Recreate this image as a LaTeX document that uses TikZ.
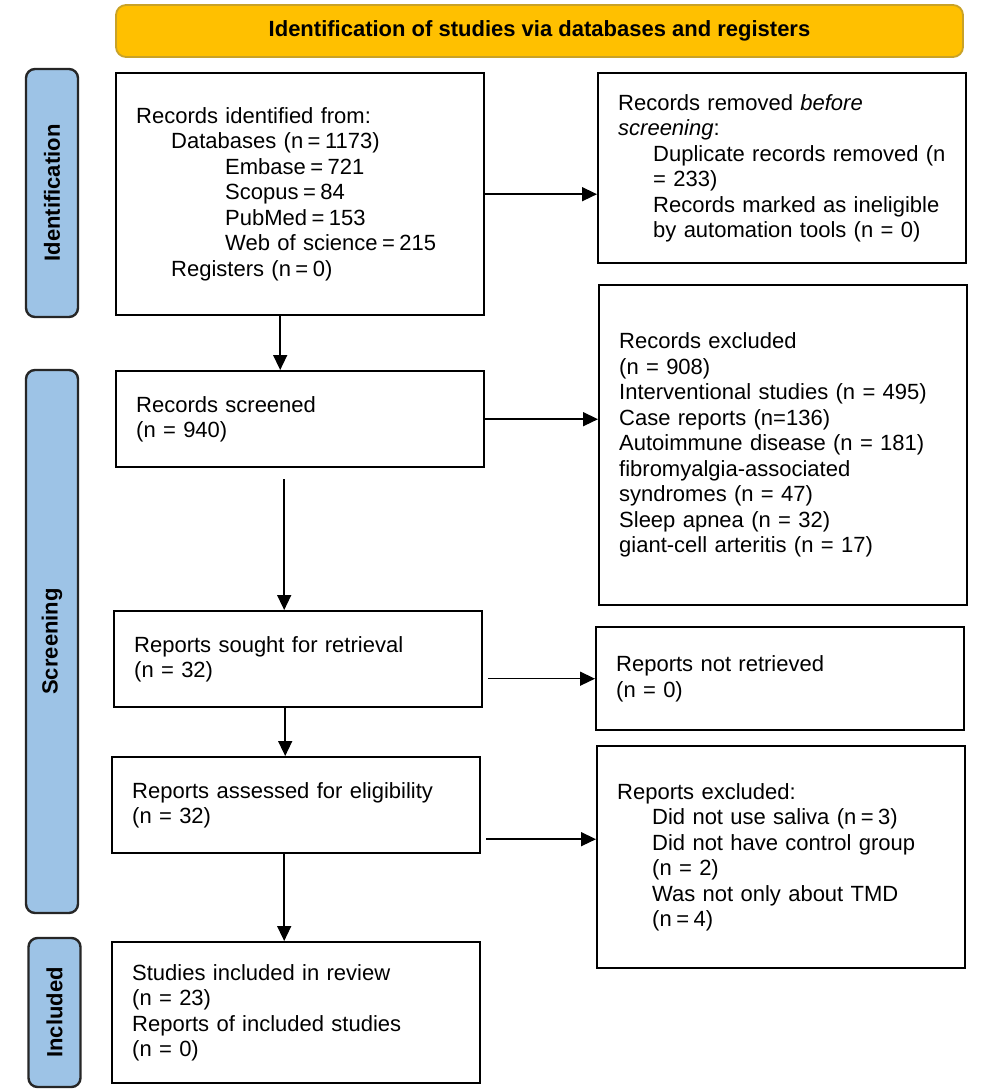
\documentclass[tikz,border=0pt]{standalone}
\usepackage{fontspec}
\setmainfont{Liberation Sans}
\usetikzlibrary{arrows.meta,calc}
\definecolor{gold}{HTML}{FFC000}
\definecolor{goldborder}{HTML}{C9A227}
\definecolor{phaseblue}{HTML}{9DC3E6}
\newcommand{\teq}{\hspace{4.5pt}=\hspace{4.5pt}}
\begin{document}
\begin{tikzpicture}[x=1pt,y=-1pt,
  box/.style={draw=black, line width=2.4pt, fill=white, anchor=north west, inner xsep=20pt, inner ysep=0pt, text width=328pt, align=left, font=\fontsize{22}{25.5}\selectfont},
  phase/.style={draw=black!85, fill=phaseblue, line width=2.4pt, rounded corners=9pt, rotate=90, minimum height=52pt, inner sep=0pt, font=\bfseries\fontsize{22}{26}\selectfont},
  arr/.style={-{Triangle[length=15pt,width=14pt]}, line width=1.5pt}]
\useasboundingbox (0,0) rectangle (1000,1092);
\fill[white] (0,0) rectangle (1000,1092);
\node[draw=goldborder, fill=gold, rounded corners=10pt, line width=1.8pt, minimum width=847pt, minimum height=52pt, inner sep=0pt, font=\bfseries\fontsize{22}{26}\selectfont] (title) at (539.5,31) {Identification of studies via databases and registers};
\node[phase, minimum width=248pt] (pid) at (52,193) {Identification};
\node[phase, minimum width=543pt] (psc) at (52,641.5) {Screening};
\node[phase, minimum width=149pt] (pin) at (54.5,1012.5) {Included};
\node[box, minimum height=242pt] (A) at (115,72) {Records identified from:\\
\hspace*{35pt}Databases (n\teq1173)\\
\hspace*{89pt}Embase\teq721\\
\hspace*{89pt}Scopus\teq84\\
\hspace*{89pt}PubMed\teq153\\
\hspace*{89pt}Web of science\teq215\\
\hspace*{35pt}Registers (n\teq0)};
\node[box, minimum height=190pt] (B) at (597,72) {Records removed \textit{before}\\
\textit{screening}:\\
\hspace*{35pt}Duplicate records removed (n\\
\hspace*{35pt}= 233)\\
\hspace*{35pt}Records marked as ineligible\\
\hspace*{35pt}by automation tools (n = 0)};
\node[box, minimum height=96pt] (C) at (115,370) {Records screened\\(n = 940)};
\node[box, minimum height=320pt] (D) at (598,284) {Records excluded\\
(n = 908)\\
Interventional studies (n = 495)\\
Case reports (n=136)\\
Autoimmune disease (n = 181)\\
fibromyalgia-associated\\
syndromes (n = 47)\\
Sleep apnea (n = 32)\\
giant-cell arteritis (n = 17)};
\node[box, minimum height=96pt] (E) at (113,610) {Reports sought for retrieval\\(n = 32)};
\node[box, minimum height=103pt] (F) at (595,626) {Reports not retrieved\\(n = 0)};
\node[box, minimum height=96pt] (G) at (111,756) {Reports assessed for eligibility\\(n = 32)};
\node[box, minimum height=222pt] (H) at (596,745) {Reports excluded:\\
\hspace*{35pt}Did not use saliva (n\teq3)\\
\hspace*{35pt}Did not have control group\\
\hspace*{35pt}(n = 2)\\
\hspace*{35pt}Was not only about TMD\\
\hspace*{35pt}(n\teq4)};
\node[box, minimum height=141pt] (I) at (111,941) {Studies included in review\\
(n = 23)\\
Reports of included studies\\
(n = 0)};
\draw[arr] (A.east) -- (A.east -| B.west);
\draw[arr] (C.east) -- (C.east -| D.west);
\draw[arr] ([xshift=5pt]E.east |- F.west) -- (F.west);
\draw[arr] ([xshift=5pt,yshift=-34pt]G.east) -- ([yshift=-34pt]G.east -| H.west);
\draw[arr] ([xshift=-20pt]A.south) -- ([xshift=-20pt]A.south |- C.north);
\draw[arr] ([xshift=-16pt,yshift=-11pt]C.south) -- ([xshift=-16pt]C.south |- E.north);
\draw[arr] ([xshift=-13pt]E.south) -- ([xshift=-13pt]E.south |- G.north);
\draw[arr] ([xshift=-12pt]G.south) -- ([xshift=-12pt]G.south |- I.north);
\end{tikzpicture}
\end{document}
